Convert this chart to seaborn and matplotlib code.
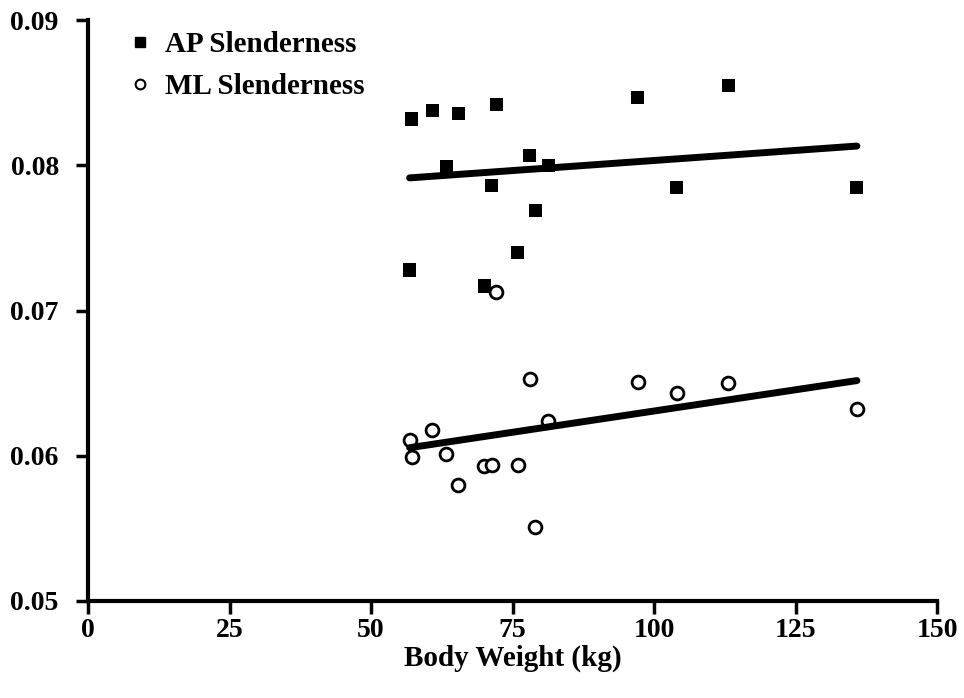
import numpy as np
import pandas as pd
import matplotlib
matplotlib.use("Agg")
import matplotlib.pyplot as plt
import seaborn as sns
from matplotlib.lines import Line2D

# body weight (kg) per subject
body_weight = [56.8, 57.2, 60.8, 63.3, 65.4, 70.0, 71.3, 72.1,
               75.9, 78.0, 79.0, 81.3, 97.1, 104.0, 113.1, 135.8]
ap_slenderness = [0.0728, 0.0832, 0.0838, 0.0799, 0.0836, 0.0717, 0.0786, 0.0842,
                  0.0740, 0.0807, 0.0769, 0.0800, 0.0847, 0.0785, 0.0855, 0.0785]
ml_slenderness = [0.0611, 0.0599, 0.0618, 0.0601, 0.0580, 0.0593, 0.0594, 0.0713,
                  0.0594, 0.0653, 0.0551, 0.0624, 0.0651, 0.0643, 0.0650, 0.0632]

x_ticks = [0, 25, 50, 75, 100, 125, 150]
y_ticks = [0.05, 0.06, 0.07, 0.08, 0.09]

df = pd.DataFrame({"weight": body_weight, "ap": ap_slenderness, "ml": ml_slenderness})

sns.set_style("ticks", {"axes.edgecolor": "black", "axes.labelcolor": "black",
                        "xtick.color": "black", "ytick.color": "black",
                        "text.color": "black"})
plt.rcParams['font.family'] = ['Liberation Serif', 'DejaVu Serif']
plt.rcParams['font.weight'] = 'bold'

fig = plt.figure(figsize=(9.64, 6.98), dpi=100)
ax = fig.add_axes([0.0913, 0.139, 0.881, 0.832])

sns.regplot(data=df, x="weight", y="ap", ci=None, ax=ax, marker="s",
            scatter_kws=dict(s=90, color="black", edgecolors="none", alpha=1),
            line_kws=dict(color="black", lw=5, solid_capstyle="round"))
sns.regplot(data=df, x="weight", y="ml", ci=None, ax=ax, marker="o",
            scatter_kws=dict(s=85, facecolors="white", edgecolors="black",
                             linewidths=2, alpha=1),
            line_kws=dict(color="black", lw=5, solid_capstyle="round"))

ax.set_xlim(0, 150)
ax.set_ylim(0.05, 0.09)
ax.set_xticks(x_ticks)
ax.set_yticks(y_ticks)
ax.set_yticklabels([f"{v:.2f}" for v in y_ticks])
ax.set_xlabel("Body Weight (kg)", fontsize=21, fontweight="bold", labelpad=1,
              color="black")
ax.set_ylabel("")
ax.tick_params(axis="both", labelsize=20, width=2.5, length=9, direction="out")
ax.tick_params(axis="y", pad=12)
for lab in ax.get_xticklabels() + ax.get_yticklabels():
    lab.set_fontweight("bold")

sns.despine(ax=ax)
for side in ["left", "bottom"]:
    ax.spines[side].set_linewidth(3)

handles = [
    Line2D([], [], marker="s", color="black", ls="none", markersize=7),
    Line2D([], [], marker="o", markerfacecolor="white", markeredgecolor="black",
           markeredgewidth=1.5, ls="none", markersize=7),
]
ax.legend(handles, ["AP Slenderness", "ML Slenderness"], loc="upper left",
          bbox_to_anchor=(0.044, 0.981), frameon=False, borderpad=0,
          borderaxespad=0, handlelength=1.0, handletextpad=0.36,
          labelspacing=0.5, prop=dict(size=21, weight="bold"))

fig.savefig("out.png", dpi=100)
